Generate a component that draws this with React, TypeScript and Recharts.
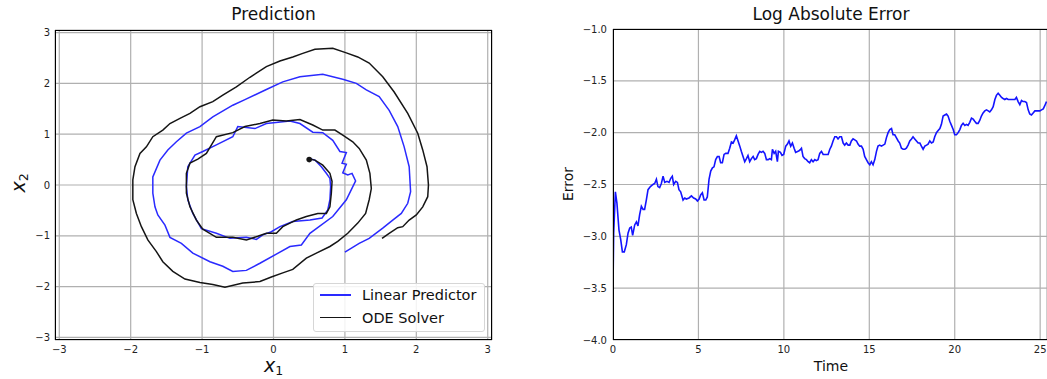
import React from "react";
import {
  CartesianGrid, Line, LineChart, Scatter, ScatterChart, XAxis, YAxis,
} from "recharts";

// phase portrait as (x1, x2)
const linearPredictor: [number, number][] = [
  [0.5, 0.52], [0.58, 0.49], [0.67, 0.36], [0.74, 0.23], [0.79, 0.13], [0.8, -0.03],
  [0.79, -0.29], [0.76, -0.49], [0.68, -0.65], [0.51, -0.69], [0.27, -0.72], [0.09, -0.82],
  [-0.03, -0.92], [-0.15, -0.98], [-0.24, -1.07], [-0.38, -1.03], [-0.61, -1.05], [-0.8, -0.95],
  [-1.01, -0.86], [-1.13, -0.56], [-1.2, -0.29], [-1.22, -0.03], [-1.2, 0.36], [-1.1, 0.59],
  [-0.99, 0.66], [-0.8, 0.79], [-0.57, 0.95], [-0.5, 1.15], [-0.26, 1.11], [-0.1, 1.21],
  [0.23, 1.26], [0.37, 1.21], [0.55, 1.04], [0.69, 1.03], [0.83, 0.88], [0.93, 0.66],
  [1.02, 0.64], [0.96, 0.43], [1.02, 0.41], [0.97, 0.24], [1.04, 0.2], [1.1, 0.23],
  [1.15, 0.08], [1.02, -0.29], [0.83, -0.62], [0.51, -0.95], [0.39, -1.18], [0.23, -1.21],
  [0.04, -1.36], [-0.19, -1.54], [-0.38, -1.68], [-0.57, -1.7], [-0.71, -1.6], [-0.89, -1.51],
  [-1.13, -1.34], [-1.29, -1.15], [-1.45, -1.03], [-1.52, -0.79], [-1.62, -0.59], [-1.66, -0.43],
  [-1.69, -0.16], [-1.69, 0.16], [-1.59, 0.49], [-1.48, 0.69], [-1.36, 0.85], [-1.22, 1.02],
  [-1.03, 1.15], [-0.85, 1.34], [-0.57, 1.57], [-0.4, 1.68], [-0.1, 1.88], [0.13, 2.03],
  [0.37, 2.13], [0.69, 2.18], [0.97, 2.08], [1.16, 2.0], [1.3, 1.87], [1.48, 1.74],
  [1.62, 1.47], [1.74, 1.15], [1.83, 0.75], [1.9, 0.36], [1.92, -0.13], [1.88, -0.36],
  [1.79, -0.56], [1.67, -0.69], [1.53, -0.85], [1.34, -1.05], [1.2, -1.15], [1.0, -1.32],
];

const odeSolver: [number, number][] = [
  [0.5, 0.51], [0.58, 0.49], [0.69, 0.39], [0.79, 0.23], [0.82, 0.07], [0.81, -0.16],
  [0.79, -0.43], [0.74, -0.56], [0.62, -0.56], [0.46, -0.62], [0.32, -0.69], [0.23, -0.75],
  [0.13, -0.82], [0.04, -0.95], [-0.1, -0.95], [-0.22, -1.01], [-0.38, -1.08], [-0.57, -1.03],
  [-0.8, -1.03], [-0.99, -0.87], [-1.08, -0.69], [-1.17, -0.43], [-1.22, -0.16], [-1.22, 0.23],
  [-1.17, 0.43], [-1.06, 0.51], [-0.94, 0.62], [-0.8, 0.95], [-0.57, 1.03], [-0.4, 1.15],
  [-0.19, 1.21], [-0.01, 1.28], [0.18, 1.26], [0.37, 1.29], [0.55, 1.18], [0.69, 1.08],
  [0.86, 1.08], [0.97, 0.98], [1.11, 0.85], [1.2, 0.72], [1.3, 0.49], [1.35, 0.23],
  [1.37, -0.07], [1.34, -0.29], [1.29, -0.56], [1.18, -0.75], [1.04, -0.95], [0.9, -1.11],
  [0.79, -1.21], [0.6, -1.34], [0.46, -1.44], [0.27, -1.66], [0.13, -1.73], [-0.03, -1.81],
  [-0.19, -1.9], [-0.43, -1.93], [-0.68, -2.01], [-0.85, -1.96], [-1.03, -1.92], [-1.24, -1.85],
  [-1.41, -1.7], [-1.55, -1.51], [-1.64, -1.31], [-1.76, -1.08], [-1.85, -0.82], [-1.92, -0.56],
  [-1.97, -0.29], [-1.97, 0.1], [-1.94, 0.36], [-1.87, 0.62], [-1.78, 0.75], [-1.69, 0.95],
  [-1.55, 1.08], [-1.45, 1.21], [-1.31, 1.31], [-1.17, 1.41], [-1.03, 1.54], [-0.85, 1.64],
  [-0.71, 1.77], [-0.52, 1.93], [-0.33, 2.12], [-0.1, 2.33], [0.09, 2.44], [0.27, 2.52],
  [0.41, 2.59], [0.58, 2.67], [0.83, 2.69], [1.02, 2.6], [1.18, 2.52], [1.34, 2.4],
  [1.53, 2.13], [1.69, 1.83], [1.88, 1.41], [2.02, 1.02], [2.09, 0.69], [2.15, 0.36],
  [2.17, 0.0], [2.16, -0.23], [2.09, -0.43], [2.0, -0.59], [1.9, -0.69], [1.81, -0.82],
  [1.74, -0.84], [1.62, -0.95], [1.52, -1.05],
];

const startPoint: [number, number][] = [[0.5, 0.5]];

const phaseTicks = [-3, -2, -1, 0, 1, 2, 3];

// log absolute error over time
const times = [
  0, 0.04, 0.14, 0.23, 0.35, 0.45, 0.55, 0.66, 0.78, 0.88, 0.98, 1.07, 1.15, 1.27, 1.37, 1.46,
  1.56, 1.66, 1.76, 1.85, 1.95, 2.05, 2.19, 2.34, 2.44, 2.54, 2.63, 2.73, 2.83, 2.93, 3.03, 3.16,
  3.28, 3.38, 3.47, 3.55, 3.67, 3.77, 3.86, 3.96, 4.1, 4.2, 4.29, 4.45, 4.59, 4.72, 4.84, 4.94,
  5.04, 5.13, 5.23, 5.33, 5.43, 5.52, 5.62, 5.72, 5.82, 5.91, 6.01, 6.11, 6.21, 6.3, 6.4, 6.5,
  6.6, 6.73, 6.83, 6.93, 7.03, 7.12, 7.22, 7.32, 7.42, 7.51, 7.61, 7.71, 7.81, 7.9, 8.0, 8.1,
  8.2, 8.29, 8.39, 8.49, 8.59, 8.68, 8.78, 8.88, 8.98, 9.08, 9.17, 9.27, 9.33, 9.43, 9.52, 9.62,
  9.68, 9.8, 9.89, 9.99, 10.11, 10.21, 10.3, 10.4, 10.5, 10.6, 10.69, 10.83, 10.93, 11.03, 11.12,
  11.22, 11.32, 11.42, 11.51, 11.61, 11.71, 11.81, 11.9, 12.0, 12.1, 12.2, 12.3, 12.39, 12.49,
  12.59, 12.69, 12.78, 12.88, 12.98, 13.08, 13.17, 13.27, 13.37, 13.47, 13.56, 13.66, 13.76,
  13.86, 13.95, 14.05, 14.15, 14.25, 14.34, 14.44, 14.54, 14.64, 14.73, 14.83, 14.93, 15.03,
  15.12, 15.22, 15.32, 15.42, 15.51, 15.61, 15.71, 15.81, 15.91, 16.0, 16.1, 16.2, 16.3, 16.39,
  16.49, 16.59, 16.69, 16.78, 16.88, 16.98, 17.08, 17.17, 17.27, 17.37, 17.47, 17.56, 17.66,
  17.76, 17.86, 17.96, 18.05, 18.15, 18.25, 18.35, 18.44, 18.54, 18.64, 18.74, 18.83, 18.93,
  19.03, 19.13, 19.22, 19.32, 19.42, 19.52, 19.61, 19.71, 19.81, 19.91, 20.0, 20.1, 20.2, 20.3,
  20.39, 20.49, 20.59, 20.69, 20.78, 20.88, 20.98, 21.08, 21.17, 21.27, 21.37, 21.47, 21.56,
  21.66, 21.76, 21.86, 21.96, 22.05, 22.15, 22.25, 22.35, 22.44, 22.54, 22.64, 22.74, 22.83,
  22.93, 23.03, 23.13, 23.22, 23.32, 23.42, 23.52, 23.61, 23.71, 23.81, 23.91, 24.0, 24.1, 24.2,
  24.3, 24.39, 24.49, 24.59, 24.69, 24.79, 24.88, 24.98, 25.08, 25.18, 25.27, 25.37,
];

const logError = [
  -3.48, -2.97, -2.57, -2.68, -2.94, -3.03, -3.15, -3.15, -3.08, -2.97, -2.92, -2.91, -2.99, -2.89,
  -2.86, -2.9, -2.79, -2.71, -2.74, -2.74, -2.65, -2.55, -2.52, -2.5, -2.49, -2.45, -2.52, -2.53,
  -2.49, -2.42, -2.48, -2.47, -2.48, -2.44, -2.42, -2.5, -2.47, -2.48, -2.55, -2.57, -2.65, -2.63,
  -2.64, -2.63, -2.61, -2.63, -2.64, -2.66, -2.64, -2.6, -2.58, -2.65, -2.65, -2.62, -2.45, -2.37,
  -2.34, -2.33, -2.26, -2.23, -2.23, -2.29, -2.29, -2.21, -2.2, -2.2, -2.15, -2.09, -2.1, -2.07,
  -2.03, -2.08, -2.13, -2.18, -2.23, -2.28, -2.25, -2.22, -2.28, -2.25, -2.23, -2.26, -2.25, -2.21,
  -2.18, -2.19, -2.18, -2.2, -2.26, -2.26, -2.25, -2.26, -2.16, -2.2, -2.18, -2.28, -2.18, -2.19,
  -2.22, -2.21, -2.13, -2.11, -2.08, -2.13, -2.1, -2.15, -2.19, -2.18, -2.17, -2.15, -2.23, -2.25,
  -2.26, -2.28, -2.29, -2.26, -2.28, -2.26, -2.27, -2.26, -2.2, -2.18, -2.21, -2.21, -2.21, -2.21,
  -2.16, -2.13, -2.08, -2.04, -2.04, -2.06, -2.04, -2.04, -2.1, -2.12, -2.1, -2.12, -2.12, -2.08,
  -2.06, -2.07, -2.08, -2.11, -2.13, -2.13, -2.16, -2.23, -2.26, -2.29, -2.31, -2.28, -2.31, -2.26,
  -2.18, -2.13, -2.12, -2.13, -2.12, -2.11, -2.05, -2.0, -1.97, -1.96, -2.02, -2.02, -2.05, -2.08,
  -2.1, -2.15, -2.16, -2.16, -2.15, -2.12, -2.08, -2.06, -2.04, -2.06, -2.08, -2.1, -2.1, -2.13,
  -2.16, -2.13, -2.12, -2.11, -2.08, -2.1, -2.09, -2.04, -2.0, -1.98, -1.96, -1.92, -1.84, -1.83,
  -1.82, -1.84, -1.89, -1.93, -1.97, -2.02, -2.02, -2.0, -1.97, -1.93, -1.91, -1.93, -1.92, -1.93,
  -1.9, -1.86, -1.87, -1.89, -1.91, -1.91, -1.88, -1.84, -1.81, -1.79, -1.78, -1.79, -1.8, -1.78,
  -1.75, -1.68, -1.64, -1.62, -1.64, -1.66, -1.67, -1.68, -1.67, -1.68, -1.68, -1.68, -1.68, -1.68,
  -1.66, -1.7, -1.73, -1.69, -1.7, -1.7, -1.71, -1.78, -1.82, -1.83, -1.81, -1.79, -1.79, -1.79,
  -1.79, -1.78, -1.77, -1.74, -1.7,
];

const timeTicks = [0, 5, 10, 15, 20, 25];
const errorTicks = [-4, -3.5, -3, -2.5, -2, -1.5, -1];

const BLUE = "#2a2aff";
const BLACK = "#151515";
const GRID = "#b0b0b0";
const FONT = "DejaVu Sans, sans-serif";

const toPts = (arr: [number, number][]) => arr.map(([x, y]) => ({ x, y }));
const errorData = times.map((t, i) => ({ t, e: logError[i] }));
const minus = (s: string) => s.replace("-", "\u2212");

const tickStyle = { fontSize: 10, fill: "#222", fontFamily: FONT };
const noShape = () => <g />;

const abs = (left: number, top: number, extra: React.CSSProperties = {}): React.CSSProperties => ({
  position: "absolute", left, top, ...extra,
});

export default function App() {
  return (
    <div style={{
      position: "absolute", left: 0, top: 0, width: 1047, height: 379,
      overflow: "hidden", background: "#fff", fontFamily: FONT, color: "#111",
    }}>
      {/* left: phase portrait */}
      <div style={abs(0, 0)}>
        <ScatterChart width={540} height={379} margin={{ top: 30, right: 48, bottom: 9, left: 5 }}>
          <CartesianGrid stroke={GRID} strokeWidth={1.2} />
          <XAxis
            type="number" dataKey="x" domain={[-3.06, 3.06]} ticks={phaseTicks}
            allowDataOverflow height={30} axisLine={false} tickLine={false}
            tickSize={6} tickMargin={0} tick={tickStyle}
            tickFormatter={(v) => minus(String(v))}
          />
          <YAxis
            type="number" dataKey="y" domain={[-3.05, 3.05]} ticks={phaseTicks}
            allowDataOverflow width={50} axisLine={false} tickLine={false}
            tickSize={5} tickMargin={0} tick={tickStyle}
            tickFormatter={(v) => minus(String(v))}
          />
          <Scatter
            data={toPts(linearPredictor)} line={{ stroke: BLUE, strokeWidth: 1.5 }}
            lineType="joint" shape={noShape} isAnimationActive={false}
          />
          <Scatter
            data={toPts(odeSolver)} line={{ stroke: BLACK, strokeWidth: 1.5 }}
            lineType="joint" shape={noShape} isAnimationActive={false}
          />
          <Scatter
            data={toPts(startPoint)} fill={BLACK}
            shape={(p: any) => <circle cx={p.cx} cy={p.cy} r={2.8} fill={BLACK} />}
            isAnimationActive={false}
          />
        </ScatterChart>
      </div>
      <div style={abs(55, 30, { width: 437, height: 310, border: "1.3px solid #000", boxSizing: "border-box" })} />
      <div style={abs(0, 4, { width: 547, textAlign: "center", fontSize: 17 })}>Prediction</div>
      <div style={abs(0, 355, { width: 547, textAlign: "center", fontSize: 19, lineHeight: "20px" })}>
        <span style={{ fontStyle: "italic" }}>x</span>
        <span style={{ fontSize: 12.5, position: "relative", top: 3 }}>1</span>
      </div>
      <div style={abs(-12, 172, { width: 60, textAlign: "center", fontSize: 19, transform: "rotate(-90deg)" })}>
        <span style={{ fontStyle: "italic" }}>x</span>
        <span style={{ fontSize: 12.5, position: "relative", top: 3 }}>2</span>
      </div>
      <div style={abs(313, 283, {
        width: 172, height: 49, border: "1px solid #d6d6d6", borderRadius: 3,
        background: "rgba(255,255,255,0.85)", boxSizing: "border-box", fontSize: 14.5,
      })}>
        {[["Linear Predictor", BLUE], ["ODE Solver", BLACK]].map(([name, c], i) => (
          <div key={name} style={abs(6, 3 + i * 22.5, { display: "flex", alignItems: "center", whiteSpace: "nowrap" })}>
            <span style={{ display: "inline-block", width: 31, height: 1.6, background: c, marginRight: 11 }} />
            <span>{name}</span>
          </div>
        ))}
      </div>

      {/* right: log absolute error */}
      <div style={abs(545, 0)}>
        <LineChart width={502} height={379} data={errorData} margin={{ top: 29, right: 0, bottom: 9, left: 18 }}>
          <CartesianGrid stroke={GRID} strokeWidth={1.2} />
          <XAxis
            type="number" dataKey="t" domain={[0, 25.4]} ticks={timeTicks}
            allowDataOverflow height={30} axisLine={false} tickLine={false}
            tickSize={6} tickMargin={0} tick={tickStyle}
          />
          <YAxis
            type="number" domain={[-4, -1]} ticks={errorTicks}
            allowDataOverflow width={50} axisLine={false} tickLine={false}
            tickSize={6} tickMargin={0} tick={tickStyle}
            tickFormatter={(v) => minus(Number(v).toFixed(1))}
          />
          <Line
            dataKey="e" stroke="#1414ff" strokeWidth={1.6} dot={false}
            isAnimationActive={false}
          />
        </LineChart>
      </div>
      <div style={abs(613, 29, { width: 450, height: 311, border: "1.3px solid #000", boxSizing: "border-box" })} />
      <div style={abs(613, 4, { width: 436, textAlign: "center", fontSize: 17 })}>Log Absolute Error</div>
      <div style={abs(613, 358, { width: 436, textAlign: "center", fontSize: 14 })}>Time</div>
      <div style={abs(538, 176, { width: 60, textAlign: "center", fontSize: 14, transform: "rotate(-90deg)" })}>Error</div>
    </div>
  );
}
